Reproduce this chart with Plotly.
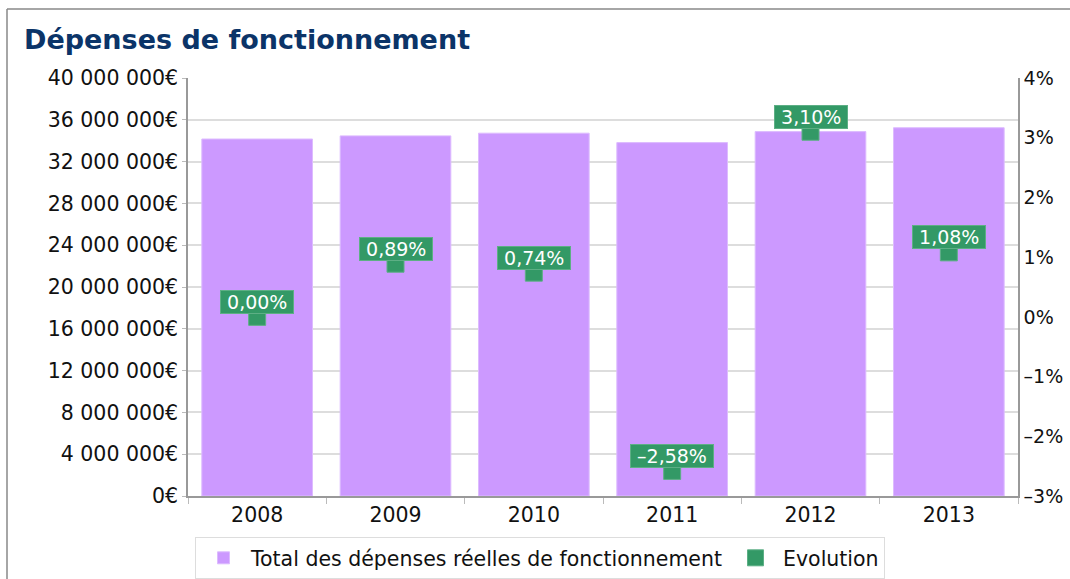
import plotly.graph_objects as go

years = ["2008", "2009", "2010", "2011", "2012", "2013"]
depenses = [34160000, 34460000, 34720000, 33820000, 34870000, 35240000]
evolution = [0.00, 0.89, 0.74, -2.58, 3.10, 1.08]
right_ticks = [-3, -2, -1, 0, 1, 2, 3, 4]
right_labels = [f"{v}%".replace("-", "\u2013") for v in right_ticks]

FONT = "DejaVu Sans"
GREEN = "#339966"
PURPLE = "#CC99FF"
NB = "\u00a0"

def fmt_pct(v):
    s = f"{abs(v):.2f}".replace(".", ",") + "%"
    return ("\u2013" + s) if v < 0 else s

fig = go.Figure()
fig.add_trace(go.Bar(
    x=years, y=depenses, name="Total des dépenses réelles de fonctionnement",
    marker=dict(color=PURPLE, line=dict(color="#DDBBFF", width=1)),
    yaxis="y", hoverinfo="skip",
))
fig.add_trace(go.Scatter(
    x=years, y=evolution, name="Evolution", mode="markers",
    marker=dict(symbol="square", size=17, color=GREEN, line=dict(color="#5DAF85", width=1)),
    yaxis="y2", hoverinfo="skip",
))

# annotation x given as category index (numeric-looking strings would be read as indices)
for i, v in enumerate(evolution):
    fig.add_annotation(
        x=i, y=v, xref="x", yref="y2", text=NB + fmt_pct(v) + NB, showarrow=False,
        yanchor="bottom", yshift=3,
        font=dict(family=FONT, size=19, color="white"),
        bgcolor=GREEN, bordercolor="#5DAF85", borderwidth=1, borderpad=0,
    )

# outer frame lines (top and left)
L, R, T, B = 188, 52, 78, 83
W, H = 1070, 579
pw, ph = W - L - R, H - T - B
def px(x): return (x - L) / pw
def py(y): return (H - B - y) / ph
fig.add_shape(type="line", xref="paper", yref="paper", x0=px(7), x1=px(1070), y0=py(9), y1=py(9),
              line=dict(color="#888888", width=1.5))
fig.add_shape(type="line", xref="paper", yref="paper", x0=px(7), x1=px(7), y0=py(9), y1=py(579),
              line=dict(color="#888888", width=1.5))

fig.update_layout(
    width=W, height=H,
    margin=dict(l=L, r=R, t=T, b=B, autoexpand=False),
    paper_bgcolor="white", plot_bgcolor="white",
    separators=", ",
    bargap=0.2,
    font=dict(family=FONT, size=20.5, color="#111111"),
    title=dict(text="<b>Dépenses de fonctionnement</b>", xref="container", x=24 / W, xanchor="left",
               yref="container", y=1 - 40 / H, yanchor="middle",
               font=dict(family=FONT, size=27, color="#0B3468")),
    xaxis=dict(type="category", range=[-0.5, len(years) - 0.5], automargin=False,
               showline=True, linecolor="#999999", linewidth=1.5, ticks="outside",
               tickson="boundaries", ticklen=6, tickcolor="#BBBBBB",
               tickfont=dict(size=20.5), showgrid=False),
    yaxis=dict(range=[0, 40000000], tickmode="linear", tick0=0, dtick=4000000, automargin=False,
               tickformat=",.0f", ticksuffix="€",
               showline=True, linecolor="#999999", linewidth=1.5,
               gridcolor="#DDDDDD", gridwidth=1.5, ticks="outside", ticklen=4, tickcolor="#BBBBBB",
               tickfont=dict(size=20.5), zeroline=False),
    yaxis2=dict(range=[-3, 4], tickmode="array", tickvals=right_ticks, ticktext=right_labels,
                automargin=False, overlaying="y", side="right",
                showline=True, linecolor="#999999", linewidth=1.5, showgrid=False, zeroline=False,
                tickfont=dict(size=19)),
    legend=dict(orientation="h", x=px(540), xanchor="center", y=py(558), yanchor="middle",
                bordercolor="#DDDDDD", borderwidth=1, font=dict(size=20.5), itemwidth=45),
    showlegend=True,
)

fig.write_html("out.html", config={"displayModeBar": False},
               post_script="document.body.style.margin='0';document.body.style.padding='0';document.body.style.overflow='hidden';")
